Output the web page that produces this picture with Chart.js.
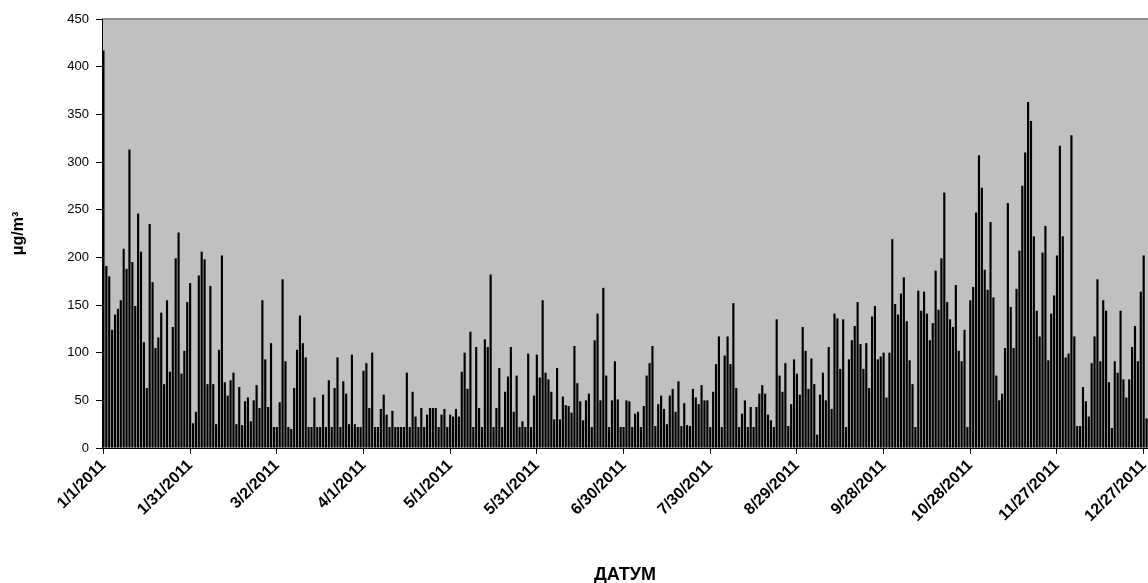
<!DOCTYPE html>
<html>
<head>
<meta charset="utf-8">
<script src="https://cdn.jsdelivr.net/npm/chart.js@4.4.0/dist/chart.umd.min.js"></script>
<style>
  html, body { margin: 0; padding: 0; background: #fff; }
  #wrap { width: 1148px; height: 583px; }
</style>
</head>
<body>
<div id="wrap"><canvas id="grafico"></canvas></div>
<script>
// dnevne vrednosti, po periodima od 30 dana (kako idu oznake na x osi)
var period01 = [417,191,180,124,140,146,155,209,188,313,195,149,246,206,111,63,235,174,105,116,142,67,155,80,127,199,226,78,102,153,173];
var period02 = [26,38,181,206,198,67,170,67,25,103,202,69,55,71,79,25,64,24,49,53,28,50,66,42,155,93,43,110,22,22];
var period03 = [48,177,91,22,20,63,103,139,110,95,22,22,53,22,22,56,22,71,22,63,95,22,70,57,25,98,25,22,22,81,89];
var period04 = [42,100,22,22,41,56,35,22,39,22,22,22,22,79,22,59,33,22,42,22,35,42,42,42,22,35,41,22,35,33];
var period05 = [41,33,80,100,62,122,22,106,42,22,114,106,182,22,42,84,22,59,75,106,38,76,22,28,22,99,22,55,98,74,155];
var period06 = [79,72,59,30,84,30,54,45,44,37,107,68,49,29,50,57,22,113,141,50,168,76,22,50,91,51,22,22,50,49];
var period07 = [22,36,38,22,44,76,89,107,23,46,55,41,25,55,62,38,70,23,47,24,23,62,53,46,66,50,50,22,59,88,117];
var period08 = [22,97,117,88,152,63,22,36,50,22,43,22,43,57,66,57,35,29,22,135,76,59,89,23,46,93,78,56,127,102];
var period09 = [62,94,67,14,56,79,50,106,41,141,136,83,135,22,93,113,128,153,109,83,110,63,138,149,93,96,100,53,100,219];
var period10 = [151,140,162,179,133,92,67,22,165,144,164,141,113,131,186,145,199,268,153,135,127,171,102,91,124,22,155,169,247,307,273];
var period11 = [187,166,237,158,76,50,57,105,257,148,105,167,207,275,310,363,343,222,144,117,205,233,92,141,160,202,317,222,95,99,328];
var period12 = [117,23,23,64,49,33,89,117,177,91,155,144,69,21,91,79,144,72,53,72,106,128,91,164,202,31];

var vrednosti = [].concat(period01, period02, period03, period04, period05, period06,
  period07, period08, period09, period10, period11, period12);

var yTicks = [0, 50, 100, 150, 200, 250, 300, 350, 400, 450];

// datumi od 1/1/2011
var datumi = [];
for (var i = 0; i < vrednosti.length; i++) {
  var d = new Date(2011, 0, 1 + i);
  datumi.push((d.getMonth() + 1) + "/" + d.getDate() + "/" + d.getFullYear());
}

var pozadina = {
  id: "pozadina",
  beforeDraw: function (chart) {
    var ctx = chart.ctx, a = chart.chartArea;
    ctx.save();
    ctx.fillStyle = "#c0c0c0";
    ctx.fillRect(a.left, a.top, a.right - a.left, a.bottom - a.top);
    ctx.strokeStyle = "#8a8a8a";
    ctx.lineWidth = 2;
    ctx.beginPath();
    ctx.moveTo(a.left, a.top);
    ctx.lineTo(a.right, a.top);
    ctx.stroke();
    ctx.restore();
  }
};

var font = "'Liberation Sans', Arial, sans-serif";

new Chart(document.getElementById("grafico").getContext("2d"), {
  type: "bar",
  data: {
    labels: datumi,
    datasets: [{
      data: vrednosti,
      backgroundColor: "#000",
      borderWidth: 0,
      barPercentage: 0.75,
      categoryPercentage: 1.0
    }]
  },
  options: {
    responsive: true,
    maintainAspectRatio: false,
    animation: false,
    devicePixelRatio: 1,
    layout: { padding: { top: 19, right: 0, left: 0, bottom: 0 } },
    plugins: { legend: { display: false }, tooltip: { enabled: false } },
    scales: {
      x: {
        offset: true,
        grid: {
          drawOnChartArea: false,
          offset: false,
          tickLength: 6,
          color: function (c) { return c.index % 30 === 0 ? "#000" : "rgba(0,0,0,0)"; }
        },
        border: { color: "#000" },
        ticks: {
          autoSkip: false,
          minRotation: 45,
          maxRotation: 45,
          padding: 2,
          color: "#000",
          font: { family: font, size: 16, weight: "bold" },
          callback: function (v, i) { return i % 30 === 0 ? datumi[i] : ""; }
        },
        title: {
          display: true,
          text: "ДАТУМ",
          color: "#000",
          font: { family: font, size: 18, weight: "bold" },
          padding: { top: 0, bottom: -3 }
        },
        afterFit: function (s) {
          s.height = 135;
          s.paddingLeft = 0;
          s.paddingRight = 0;
        }
      },
      y: {
        min: 0,
        max: 450,
        afterBuildTicks: function (s) { s.ticks = yTicks.map(function (v) { return { value: v }; }); },
        grid: { drawOnChartArea: false, tickLength: 6, color: "#000" },
        border: { color: "#000" },
        ticks: {
          padding: 7,
          color: "#000",
          font: { family: font, size: 13 }
        },
        title: {
          display: true,
          text: "μg/m³",
          color: "#000",
          font: { family: font, size: 16, weight: "bold" },
          padding: { top: 9, bottom: 0 }
        },
        afterFit: function (s) { s.width = 102; }
      }
    }
  },
  plugins: [pozadina]
});
</script>
</body>
</html>
